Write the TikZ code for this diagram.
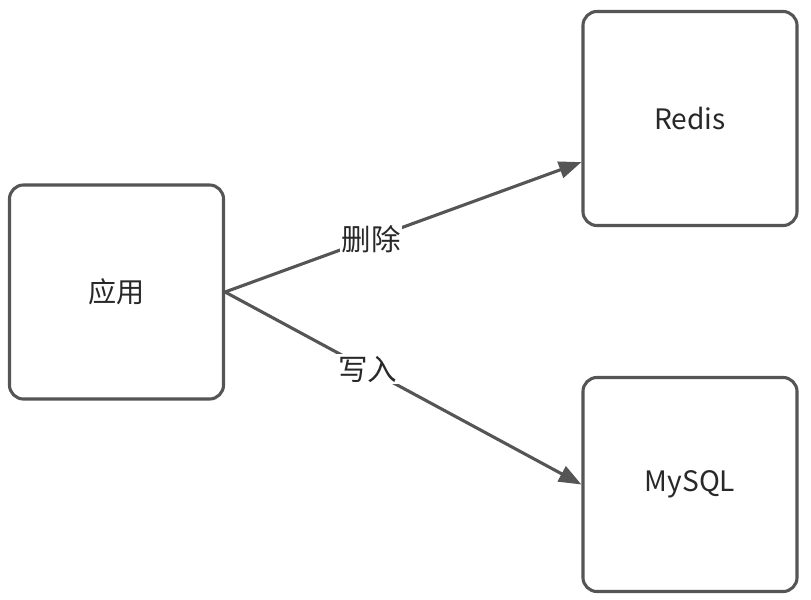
\documentclass[tikz,border=0pt]{standalone}
\usepackage{fontspec}
\setmainfont{Noto Sans CJK SC}
\usetikzlibrary{arrows.meta, positioning, calc}
\definecolor{LineGray}{RGB}{85,85,85}
\definecolor{TextGray}{RGB}{40,40,40}

\begin{document}
\begin{tikzpicture}[x=0.025cm, y=-0.025cm,
    box/.style={draw=LineGray, line width=2.2pt, rounded corners=10pt, fill=white,
        text=TextGray, font=\fontsize{20}{24}\selectfont,
        minimum width=5.35cm, minimum height=5.35cm, inner sep=0pt},
    link/.style={draw=LineGray, line width=2.2pt, -{Triangle[length=16pt, width=12pt]}},
    tag/.style={fill=white, text=TextGray, font=\fontsize{21}{24}\selectfont, inner sep=1pt}]

\useasboundingbox (0,0) rectangle (811,600);

\node[box] (app) at (116.5,292) {应用};
\node[box] (redis) at (690,118.5) {Redis};
\node[box] (mysql) at (690,484.5) {MySQL};

\coordinate (redisin) at ([yshift=-1.09cm]redis.west);

\draw[link] (app.east) -- node[tag, pos=0.41] (del) {删除} (redisin);
\draw[link] (app.east) -- node[tag, pos=0.40] (put) {写入} (mysql.west);

\end{tikzpicture}
\end{document}
